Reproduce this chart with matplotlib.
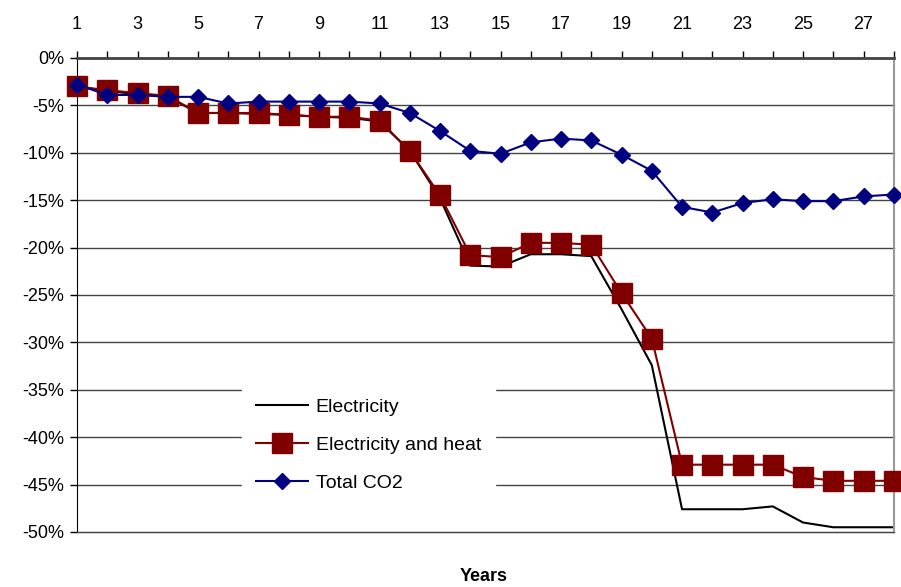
import matplotlib
matplotlib.use("Agg")
import matplotlib.pyplot as plt

plt.rcParams['font.family'] = ['Liberation Sans', 'DejaVu Sans']

# Years 1..28
years = list(range(1, 29))

# values in percent
electricity = [-3.0, -3.5, -3.8, -4.1, -5.8, -5.8, -5.9, -6.0, -6.2, -6.3,
               -6.7, -9.8, -14.8, -21.9, -22.0, -20.7, -20.7, -20.9, -26.5, -32.4,
               -47.6, -47.6, -47.6, -47.3, -49.0, -49.5, -49.5, -49.5]
elec_heat = [-3.0, -3.4, -3.7, -4.0, -5.8, -5.8, -5.8, -6.0, -6.2, -6.2,
             -6.6, -9.8, -14.5, -20.8, -21.0, -19.5, -19.5, -19.7, -24.8, -29.6,
             -42.9, -42.9, -42.9, -42.9, -44.2, -44.6, -44.6, -44.6]
total_co2 = [-2.8, -3.9, -3.9, -4.1, -4.1, -4.8, -4.6, -4.6, -4.6, -4.6,
             -4.8, -5.8, -7.7, -9.8, -10.1, -8.9, -8.5, -8.7, -10.2, -11.9,
             -15.7, -16.3, -15.3, -14.9, -15.1, -15.1, -14.6, -14.4]

yticks = list(range(0, -55, -5))
ytick_labels = [f"{v}%" for v in yticks]
xtick_labels = [str(y) if y % 2 == 1 else "" for y in years]

fig = plt.figure(figsize=(9.01, 5.87), dpi=100)
ax = fig.add_axes([0.0855, 0.0937, 0.9065, 0.8075])

for v in yticks:
    ax.axhline(v, color='#444444', lw=1.0, zorder=0, clip_on=False)

ax.plot(years, electricity, color='black', lw=1.5, label='Electricity', zorder=2,
        clip_on=False)
ax.plot(years, elec_heat, color='#800000', lw=1.5, marker='s', markersize=14,
        label='Electricity and heat', zorder=3, clip_on=False)
ax.plot(years, total_co2, color='#000080', lw=1.5, marker='D', markersize=8,
        label='Total CO2', zorder=4, clip_on=False)

ax.set_xlim(1, 28)
ax.set_ylim(-50, 0)
ax.set_xticks(years)
ax.set_xticklabels(xtick_labels)
ax.set_yticks(yticks)
ax.set_yticklabels(ytick_labels)

ax.xaxis.tick_top()
ax.tick_params(axis='x', direction='out', length=5, width=1, pad=13, labelsize=13, colors='black')
ax.tick_params(axis='y', direction='out', length=5, width=1, pad=4, labelsize=13)

ax.spines['top'].set_linewidth(2)
ax.spines['top'].set_color('#444444')
ax.spines['bottom'].set_color('#444444')
ax.spines['left'].set_color('black')
ax.spines['right'].set_color('#999999')
ax.spines['right'].set_linewidth(1.5)

leg = ax.legend(loc='lower left', bbox_to_anchor=(0.19, 0.035), frameon=True,
                fontsize=14, handlelength=2.7, labelspacing=1.05, borderpad=0.7,
                handletextpad=0.4, fancybox=False)
leg.get_frame().set_edgecolor('white')
leg.get_frame().set_facecolor('white')
leg.get_frame().set_alpha(1)
leg.set_zorder(5)

fig.text(0.537, 0.018, 'Years', ha='center', va='center', fontsize=13, fontweight='bold')

fig.savefig('out.png', dpi=100)
